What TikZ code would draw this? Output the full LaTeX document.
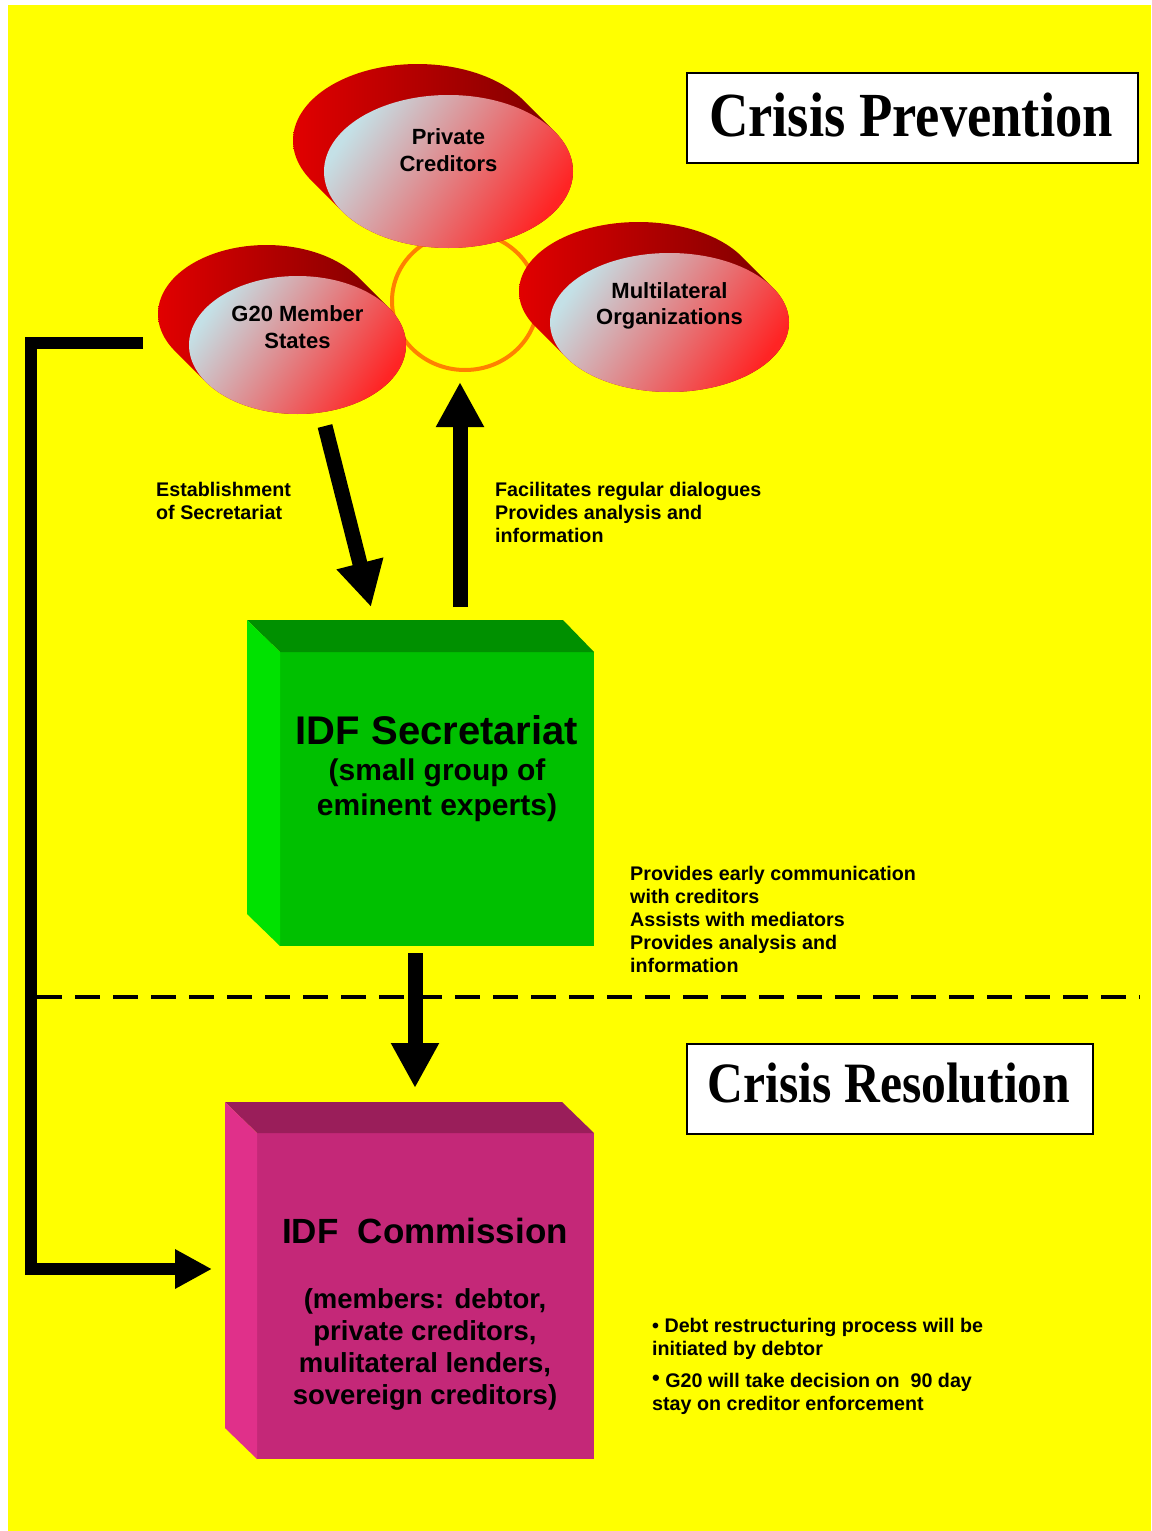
\documentclass[tikz,border=0pt]{standalone}
\usepackage{fontspec}
\setmainfont{Liberation Sans}
\newfontfamily\titlefont{Liberation Serif}
\usetikzlibrary{arrows.meta,shapes.geometric,calc}
\definecolor{bgyellow}{RGB}{255,255,0}
\definecolor{backL}{RGB}{225,0,0}
\definecolor{backR}{RGB}{120,0,0}
\definecolor{frontA}{RGB}{196,224,230}
\definecolor{frontM}{RGB}{232,150,150}
\definecolor{frontB}{RGB}{255,36,36}
\definecolor{ringorange}{RGB}{255,128,0}
\definecolor{gFront}{RGB}{0,192,0}
\definecolor{gTop}{RGB}{0,144,0}
\definecolor{gLeft}{RGB}{0,226,0}
\definecolor{pFront}{RGB}{196,40,120}
\definecolor{pTop}{RGB}{154,30,90}
\definecolor{pLeft}{RGB}{224,48,138}
\newcommand\orgblob[7]{%
  \pgfmathsetmacro\tA{atan(-(#4)/(#3))}%
  \pgfmathsetmacro\tB{\tA-180}%
  \pgfmathsetmacro\tC{\tA+180}%
  \shade[left color=backL, right color=backR]
    plot[domain=\tA:\tB, samples=72, variable=\t] ({#1-31+#3*cos(\t)},{#2-31+#4*sin(\t)})
    -- plot[domain=\tC:\tA, samples=72, variable=\t] ({#1+#3*cos(\t)},{#2+#4*sin(\t)}) -- cycle;
  \node[ellipse, inner sep=0, outer sep=0, minimum width=2*#3, minimum height=2*#4,
        top color=frontA, middle color=frontM, bottom color=frontB, shading angle=55] (#5) at (#1,#2) {};
  \node[orglbl] (#5-t) at (#1,#7) {#6};
}
\begin{document}
\begin{tikzpicture}[x=1pt,y=-1pt,
  lbl/.style={font=\fontsize{19.7}{23}\selectfont\bfseries, align=left, inner sep=0, anchor=base west},
  orglbl/.style={font=\fontsize{22}{26.5}\selectfont\bfseries, align=center, inner sep=0},
  fatarrow/.style={line width=15pt, -{Triangle[length=45pt,width=45pt]}},
  linkarrow/.style={line width=12pt, -{Triangle[length=37pt,width=37pt]}, line join=miter},
  titlebox/.style={draw=black, line width=2pt, fill=white, inner sep=0, anchor=north west},
  titletext/.style={font=\titlefont\bfseries, inner sep=0, anchor=base}]
\useasboundingbox (0,0) rectangle (1151,1531);
\fill[white] (0,0) rectangle (1151,1531);
\fill[bgyellow] (8,5) rectangle (1151,1531);

% titles
\node[titlebox, minimum width=451, minimum height=90] (prevbox) at (686,72) {};
\node[titletext, font=\titlefont\bfseries\fontsize{54.6}{60}\selectfont] (prevt) at (911,136) {\scalebox{1}[1.15]{Crisis Prevention}};
\node[titlebox, minimum width=406, minimum height=90] (resbox) at (686,1043) {};
\node[titletext, font=\titlefont\bfseries\fontsize{49.6}{55}\selectfont] (rest) at (889,1102) {\scalebox{1}[1.15]{Crisis Resolution}};

% ring
\node[ellipse, draw=ringorange, line width=4pt, minimum width=146, minimum height=138, inner sep=0] (ring) at (465,301) {};

% organisations
\orgblob{448.5}{171.5}{124.5}{76.5}{pc}{Private\\Creditors}{150}
\orgblob{669.5}{322.5}{119.5}{69.5}{mo}{Multilateral\\Organizations}{306}
\orgblob{297.5}{345}{108.5}{69}{g20}{G20 Member\\States}{327}

% dashed divider
\coordinate (dashL) at (37,997);
\coordinate (dashR) at (1140,997);
\draw[line width=4pt, dash pattern=on 25pt off 13pt] (dashL) -- (dashR);

% Secretariat box
\node[fill=gFront, inner sep=0, outer sep=0, anchor=north west, minimum width=314, minimum height=294] (sec) at (280,652) {};
\fill[gTop] (sec.north west) -- ++(-33,-32) -- ($(sec.north east)+(-31,-32)$) -- (sec.north east) -- cycle;
\fill[gLeft] (sec.north west) -- ++(-33,-32) -- ($(sec.south west)+(-33,-32)$) -- (sec.south west) -- cycle;
\node[font=\fontsize{40}{44}\selectfont\bfseries, inner sep=0, anchor=base] (sect) at (437,744) {IDF Secretariat};
\node[font=\fontsize{30}{35}\selectfont\bfseries, inner sep=0, align=center, anchor=base] (secs) at (437,815) {(small group of\\eminent experts)};

% Commission box
\node[fill=pFront, inner sep=0, outer sep=0, anchor=north west, minimum width=337, minimum height=326] (com) at (257,1133) {};
\fill[pTop] (com.north west) -- ++(-32,-31) -- ($(com.north east)+(-32,-31)$) -- (com.north east) -- cycle;
\fill[pLeft] (com.north west) -- ++(-32,-31) -- ($(com.south west)+(-32,-31)$) -- (com.south west) -- cycle;
\node[font=\fontsize{35}{40}\selectfont\bfseries, inner sep=0, anchor=base] (comt) at (425,1243) {IDF\ \ Commission};
\node[font=\fontsize{27.5}{32}\selectfont\bfseries, inner sep=0, align=center, anchor=base] (coms) at (425,1404) {(members: debtor,\\private creditors,\\mulitateral lenders,\\sovereign creditors)};

% arrows
\coordinate (a1s) at (325,426);
\coordinate (a1e) at (371,607);
\draw[fatarrow] (a1s) -- (a1e);
\coordinate (a2s) at (460,607);
\coordinate (a2e) at (460,382);
\draw[fatarrow] (a2s) -- (a2e);
\coordinate (a3s) at ($(sec.south west)+(135,7)$);
\coordinate (a3e) at ($(com.north west)+(158,-45)$);
\draw[fatarrow] (a3s) -- (a3e);
\coordinate (lks) at (143,343);
\coordinate (lke) at ($(com.west)+(-45,-27)$);
\draw[linkarrow] (lks) -- (31,343) |- (lke);

% labels
\node[lbl] (estab) at (156,519) {Establishment\\of Secretariat};
\node[lbl] (facil) at (495,542) {Facilitates regular dialogues\\Provides analysis and\\information};
\node[lbl] (early) at (630,972) {Provides early communication\\with creditors\\Assists with mediators\\Provides analysis and\\information};
\node[lbl] (bul1) at (652,1355) {• Debt restructuring process will be\\initiated by debtor};
\node[lbl] (bul2) at (652,1410) {\raisebox{2pt}{\fontsize{22}{22}\selectfont•} G20 will take decision on\ \ 90 day\\stay on creditor enforcement};
\end{tikzpicture}
\end{document}
